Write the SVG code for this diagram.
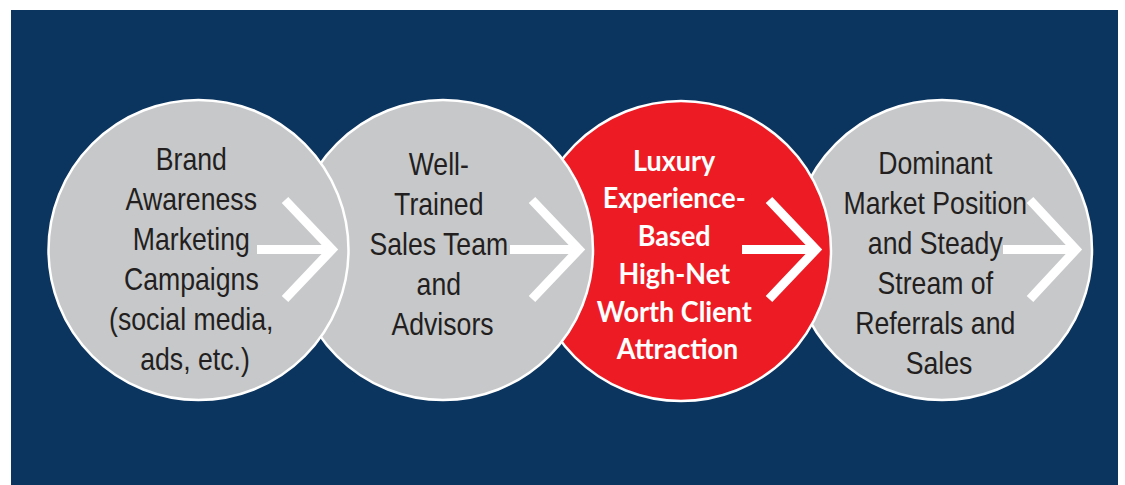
<svg xmlns="http://www.w3.org/2000/svg" width="1125" height="485" viewBox="0 0 1125 485">
  <style>
    .disc { stroke: #ffffff; stroke-width: 2.5; }
    .grey { fill: #c7c8ca; }
    .red { fill: #ed1c24; }
    .lbl { font-family: "Liberation Sans", Arial, sans-serif; font-size: 31px; fill: #231f20; text-anchor: middle; }
    .lbl-hi { font-family: Lato, "Liberation Sans", sans-serif; font-weight: bold; font-size: 29px; fill: #ffffff; text-anchor: middle; }
    .arrow { fill: none; stroke: #ffffff; stroke-width: 9; stroke-linejoin: miter; stroke-miterlimit: 10; }
  </style>

  <!-- backdrop -->
  <rect x="11" y="10" width="1107" height="475" fill="#0b355f"/>

  <!-- stages, drawn right to left so each one overlaps the next -->
  <g id="node-4">
    <circle class="disc grey" cx="942" cy="250" r="150"/>
    <text class="lbl" transform="translate(939,0) scale(0.86,1)">
      <tspan x="0" y="174">Dominant</tspan>
      <tspan x="0" y="214">Market Position</tspan>
      <tspan x="0" y="254">and Steady</tspan>
      <tspan x="0" y="294">Stream of</tspan>
      <tspan x="0" y="334">Referrals and</tspan>
      <tspan x="0" y="374">Sales</tspan>
    </text>
  </g>

  <g id="node-3">
    <circle class="disc red" cx="681" cy="251" r="150"/>
    <text class="lbl-hi" transform="translate(677.5,0) scale(0.93,1)">
      <tspan x="0" y="171">Luxury</tspan>
      <tspan x="0" y="208">Experience-</tspan>
      <tspan x="0" y="246">Based</tspan>
      <tspan x="0" y="284">High-Net</tspan>
      <tspan x="0" y="322">Worth Client</tspan>
      <tspan x="0" y="359">Attraction</tspan>
    </text>
  </g>

  <g id="node-2">
    <circle class="disc grey" cx="443" cy="250" r="150"/>
    <text class="lbl" transform="translate(442.5,0) scale(0.86,1)">
      <tspan x="0" y="175">Well-</tspan>
      <tspan x="0" y="215">Trained</tspan>
      <tspan x="0" y="255">Sales Team</tspan>
      <tspan x="0" y="295">and</tspan>
      <tspan x="0" y="335">Advisors</tspan>
    </text>
  </g>

  <g id="node-1">
    <circle class="disc grey" cx="198.5" cy="250" r="150"/>
    <text class="lbl" transform="translate(195,0) scale(0.86,1)">
      <tspan x="0" y="170">Brand</tspan>
      <tspan x="0" y="210">Awareness</tspan>
      <tspan x="0" y="250">Marketing</tspan>
      <tspan x="0" y="290">Campaigns</tspan>
      <tspan x="0" y="330">(social media,</tspan>
      <tspan x="0" y="370">ads, etc.)</tspan>
    </text>
  </g>

  <!-- forward arrows between stages -->
  <g id="connectors">
    <path class="arrow" d="M257,249.5 H332 M285,200 L332,249.5 L285,299"/>
    <path class="arrow" d="M510,249.5 H579 M532,200 L579,249.5 L532,299"/>
    <path class="arrow" d="M742,249.5 H816 M769,200 L816,249.5 L769,299"/>
    <path class="arrow" d="M1003,249.5 H1076 M1030,200 L1076,249.5 L1030,299"/>
  </g>
</svg>
